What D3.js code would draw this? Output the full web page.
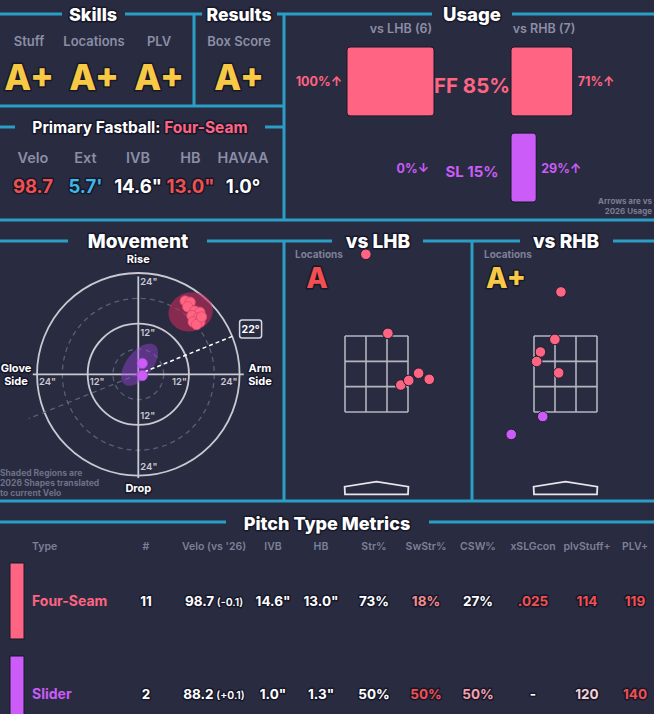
<!DOCTYPE html>
<html>
<head>
<meta charset="utf-8">
<script src="https://cdn.jsdelivr.net/npm/d3@7"></script>
<style>
html, body { margin: 0; padding: 0; background: #292b40; overflow: hidden; }
svg { display: block; font-family: Inter, "DejaVu Sans", sans-serif; }
.ol { paint-order: stroke; stroke: #17182a; stroke-width: 3px; stroke-linejoin: round; }
</style>
</head>
<body>
<svg id="mainsvg" width="654" height="714"></svg>
<script>
const skillNames = ["Stuff", "Locations", "PLV"];
const skillGrades = ["A+", "A+", "A+"];
const resultNames = ["Box Score"];
const resultGrades = ["A+"];

const fbStatNames = ["Velo", "Ext", "IVB", "HB", "HAVAA"];
const fbStatValues = ["98.7", "5.7'", "14.6\"", "13.0\"", "1.0°"];

const pitchNames = ["Four-Seam", "Slider"];
const pitchCodes = ["FF", "SL"];
const usageAll = [85, 15];
const usageLHB = [100, 0];
const usageRHB = [71, 29];
const trendLHB = ["↑", "↓"];
const trendRHB = ["↑", "↑"];
const countLHB = 6, countRHB = 7;

// movement (inches)
const ffHB = [11.1, 12.3, 11.7, 13.4, 14.6, 12.7, 14.3, 13.0, 14.6, 13.8, 15.0];
const ffIVB = [17.4, 17.1, 16.0, 15.0, 14.7, 13.9, 13.4, 12.4, 12.4, 11.8, 13.6];
const slHB = [0.95, 0.95];
const slIVB = [2.6, -0.3];
// 2026 shapes (center HB, center IVB, radii, tilt)
const shapeHB = [12.4, 0.3];
const shapeIVB = [14.8, 2.3];
const shapeRx = [5.3, 5.9];
const shapeRy = [4.6, 3.1];
const shapeTilt = [-15, -52];
const armAngle = 22;

// locations (feet)
const lhbPlateX = [-0.28, 0.30, 0.64, 0.85, 1.11, 1.39];
const lhbPlateZ = [5.65, 3.57, 2.21, 2.33, 2.52, 2.36];
const lhbPitch = ["FF", "FF", "FF", "FF", "FF", "FF"];
const rhbPlateX = [-0.12, -0.28, -0.66, -0.76, -0.18, -0.60, -1.43];
const rhbPlateZ = [4.66, 3.41, 3.08, 2.83, 2.53, 1.38, 0.91];
const rhbPitch = ["FF", "FF", "FF", "FF", "FF", "SL", "SL"];
const locGrades = ["A", "A+"];

// table
const tableHeaders = ["Type", "#", "Velo (vs '26)", "IVB", "HB", "Str%", "SwStr%", "CSW%", "xSLGcon", "plvStuff+", "PLV+"];
const rowCount = ["11", "2"];
const rowVelo = ["98.7", "88.2"];
const rowVeloDiff = ["(-0.1)", "(+0.1)"];
const rowIVB = ["14.6\"", "1.0\""];
const rowHB = ["13.0\"", "1.3\""];
const rowStr = ["73%", "50%"];
const rowSwStr = ["18%", "50%"];
const rowCSW = ["27%", "50%"];
const rowXSLG = [".025", "-"];
const rowStuff = ["114", "120"];
const rowPLV = ["119", "140"];

// ---- styles ----
const BG = "#292b40", LINE = "#2b9ec6", GRAY = "#8b8ea6";
const pitchColor = { FF: "#ff6482", SL: "#cb5cf7" };
const RED = "#f25050", BLUE = "#3fb6e6", SALMON = "#f48c8c", YELLOW = "#f7c945", PALE = "#f5d0d8", PINK2 = "#f4a0ac";
const gradeColor = g => g === "A+" ? YELLOW : RED;

const svg = d3.select("#mainsvg");
svg.append("rect").attr("width", 654).attr("height", 714).attr("fill", BG);

function hline(y, x0, x1) {
    svg.append("line").attr("x1", x0).attr("x2", x1).attr("y1", y).attr("y2", y)
        .attr("stroke", LINE).attr("stroke-width", 3);
}
function vline(x, y0, y1) {
    svg.append("line").attr("x1", x).attr("x2", x).attr("y1", y0).attr("y2", y1)
        .attr("stroke", LINE).attr("stroke-width", 3);
}
function txt(x, y, s, size, fill, weight, anchor) {
    return svg.append("text").attr("x", x).attr("y", y).text(s)
        .attr("font-size", size).attr("fill", fill)
        .attr("font-weight", weight || 700)
        .attr("text-anchor", anchor || "middle");
}

// section frame
hline(14, 0, 62); hline(14, 125, 202); hline(14, 277, 432); hline(14, 512, 654);
vline(194, 14, 106); vline(284, 14, 220);
hline(106, 0, 284);
hline(127, 0, 15); hline(127, 265, 284);
hline(220, 0, 654);
hline(241, 0, 68); hline(241, 207, 332); hline(241, 423, 520); hline(241, 613, 654);
vline(284, 241, 501); vline(472, 241, 501);
hline(501, 0, 654);
hline(522, 0, 226); hline(522, 429, 654);

txt(93, 21, "Skills", 18, "#fff", 800).attr("class", "ol");
txt(239, 21, "Results", 17.5, "#fff", 800).attr("class", "ol");
txt(472, 21, "Usage", 18.5, "#fff", 800).attr("class", "ol");

// ---- skills / results ----
const skillX = d3.scalePoint().domain(skillNames).range([29, 159]);
skillNames.forEach((n, i) => {
    txt(skillX(n), 46, n, 13, GRAY, 600);
    txt(skillX(n), 90, skillGrades[i], 35, gradeColor(skillGrades[i]), 800).attr("class", "ol");
});
resultNames.forEach((n, i) => {
    txt(239, 46, n, 13, GRAY, 600);
    txt(239, 90, resultGrades[i], 35, gradeColor(resultGrades[i]), 800).attr("class", "ol");
});

// ---- primary fastball ----
const pf = txt(140, 133, "Primary Fastball: ", 15.5, "#fff", 700).attr("class", "ol");
pf.append("tspan").text(pitchNames[0]).attr("fill", pitchColor.FF);
const fbColor = { "Velo": RED, "Ext": BLUE, "HB": RED };
const fbX = d3.scalePoint().domain(fbStatNames).range([33, 243]);
fbStatNames.forEach((n, i) => {
    txt(fbX(n), 163, n, 14.5, GRAY, 600);
    txt(fbX(n), 193, fbStatValues[i], 18.5, fbColor[n] || "#fff", 700).attr("class", "ol");
});

// ---- usage ----
const uy = d3.scaleBand().domain(pitchCodes).range([47, 202]).paddingInner(0.2);
const ux = d3.scaleLinear().domain([0, 100]).range([0, 87]);
const lhbEdge = 434, rhbEdge = 511;
txt(401, 33, `vs LHB (${countLHB})`, 12.5, GRAY, 600);
txt(544, 33, `vs RHB (${countRHB})`, 12.5, GRAY, 600);
pitchCodes.forEach((c, i) => {
    const col = pitchColor[c];
    const cy = uy(c) + uy.bandwidth() / 2;
    if (usageLHB[i] > 0)
        svg.append("rect").attr("x", lhbEdge - ux(usageLHB[i])).attr("y", uy(c))
            .attr("width", ux(usageLHB[i])).attr("height", uy.bandwidth())
            .attr("rx", 3).attr("fill", col).attr("stroke", "#17182a").attr("stroke-width", 1);
    if (usageRHB[i] > 0)
        svg.append("rect").attr("x", rhbEdge).attr("y", uy(c))
            .attr("width", ux(usageRHB[i])).attr("height", uy.bandwidth())
            .attr("rx", 3).attr("fill", col).attr("stroke", "#17182a").attr("stroke-width", 1);
    txt(lhbEdge - ux(usageLHB[i]) - 5, cy + 5, usageLHB[i] + "%" + trendLHB[i], 12.5, col, 700, "end");
    txt(rhbEdge + ux(usageRHB[i]) + 5, cy + 5, usageRHB[i] + "%" + trendRHB[i], 12.5, col, 700, "start");
    txt(472, cy + (i === 0 ? 11.5 : 9.5), c + " " + usageAll[i] + "%", i === 0 ? 20.5 : 15, col, 700);
});
txt(652, 204, "Arrows are vs", 8, "#7a7d93", 700, "end");
txt(652, 214, "2026 Usage", 8, "#7a7d93", 700, "end");

// ---- movement ----
txt(138, 248, "Movement", 19, "#fff", 800).attr("class", "ol");
const mcx = 138.3, mcy = 374.3, ppi = 4.22;
const mx = d3.scaleLinear().domain([-25, 25]).range([mcx - 25 * ppi, mcx + 25 * ppi]);
const my = d3.scaleLinear().domain([-25, 25]).range([mcy + 25 * ppi, mcy - 25 * ppi]);
const mg = svg.append("g");
[6, 18].forEach(r => mg.append("circle").attr("cx", mx(0)).attr("cy", my(0)).attr("r", mx(r) - mx(0))
    .attr("fill", "none").attr("stroke", "#5a5e76").attr("stroke-width", 1.3).attr("stroke-dasharray", "5,4"));
[12, 24].forEach(r => mg.append("circle").attr("cx", mx(0)).attr("cy", my(0)).attr("r", mx(r) - mx(0))
    .attr("fill", "none").attr("stroke", "#c9c9d2").attr("stroke-width", 1.8));
mg.append("line").attr("x1", mx(-25)).attr("x2", mx(25)).attr("y1", my(0)).attr("y2", my(0))
    .attr("stroke", "#c9c9d2").attr("stroke-width", 1.8);
mg.append("line").attr("x1", mx(0)).attr("x2", mx(0)).attr("y1", my(23.2)).attr("y2", my(-24.6))
    .attr("stroke", "#c9c9d2").attr("stroke-width", 1.8);

// tick labels
[12, 24].forEach(r => {
    txt(mx(0) + 2, my(r) + 12, r + "\"", 9.5, "#c9c9d2", 600, "start");
    txt(mx(0) + 2, my(-r) - 6, r + "\"", 9.5, "#c9c9d2", 600, "start");
    txt(mx(-r) + 2, my(0) + 10.5, r + "\"", 9.5, "#c9c9d2", 600, "start");
    txt(mx(r) - 2, my(0) + 10.5, r + "\"", 9.5, "#c9c9d2", 600, "end");
});
txt(mx(0), 263, "Rise", 11, "#fff", 700).attr("class", "ol");
txt(mx(0), 492, "Drop", 11, "#fff", 700).attr("class", "ol");
txt(16, 372, "Glove", 11, "#fff", 700).attr("class", "ol");
txt(16, 385, "Side", 11, "#fff", 700).attr("class", "ol");
txt(260, 372, "Arm", 11, "#fff", 700).attr("class", "ol");
txt(260, 385, "Side", 11, "#fff", 700).attr("class", "ol");

// arm angle line
const rad = armAngle * Math.PI / 180;
const polar = r => [mx(r * Math.cos(rad)), my(r * Math.sin(rad))];
mg.append("line").attr("x1", polar(0)[0]).attr("y1", polar(0)[1])
    .attr("x2", polar(-28)[0]).attr("y2", polar(-28)[1])
    .attr("stroke", "#5f6279").attr("stroke-width", 1.2).attr("stroke-dasharray", "5,4");

// 2026 shapes
pitchCodes.forEach((c, i) => {
    mg.append("ellipse")
        .attr("transform", `translate(${mx(shapeHB[i])},${my(shapeIVB[i])}) rotate(${shapeTilt[i]})`)
        .attr("rx", mx(shapeRx[i]) - mx(0)).attr("ry", mx(shapeRy[i]) - mx(0))
        .attr("fill", c === "FF" ? "#c42a5c" : "#9d42e0").attr("opacity", c === "FF" ? 0.6 : 0.42);
});
mg.append("line").attr("x1", polar(1.5)[0]).attr("y1", polar(1.5)[1])
    .attr("x2", polar(24)[0]).attr("y2", polar(24)[1])
    .attr("stroke", "#fff").attr("stroke-width", 1.5).attr("stroke-dasharray", "4,3");
const bp = polar(28.7);
mg.append("rect").attr("x", bp[0] - 11).attr("y", bp[1] - 9).attr("width", 22).attr("height", 18)
    .attr("rx", 2.5).attr("fill", BG).attr("stroke", "#d6d6de").attr("stroke-width", 1.5);
txt(bp[0], bp[1] + 4, armAngle + "°", 10.5, "#fff", 700);

ffHB.forEach((h, i) => mg.append("circle").attr("cx", mx(h)).attr("cy", my(ffIVB[i])).attr("r", 5.2)
    .attr("fill", pitchColor.FF).attr("stroke", "#d9466a").attr("stroke-width", 0.7));
slHB.forEach((h, i) => mg.append("circle").attr("cx", mx(h)).attr("cy", my(slIVB[i])).attr("r", 5.2)
    .attr("fill", pitchColor.SL).attr("stroke", "#a646d0").attr("stroke-width", 0.7));

txt(0, 476, "Shaded Regions are", 8.5, "#6e7188", 700, "start");
txt(0, 486, "2026 Shapes translated", 8.5, "#6e7188", 700, "start");
txt(0, 495.5, "to current Velo", 8.5, "#6e7188", 700, "start");

// ---- locations ----
txt(378, 248, "vs LHB", 19, "#fff", 800).attr("class", "ol");
txt(566, 248, "vs RHB", 19, "#fff", 800).attr("class", "ol");
const ly = d3.scaleLinear().domain([1.5, 3.5]).range([412, 336]);
const panels = [
    { x: d3.scaleLinear().domain([-0.83, 0.83]).range([345, 408]), px: lhbPlateX, pz: lhbPlateZ, pt: lhbPitch, lab: 295, grade: locGrades[0] },
    { x: d3.scaleLinear().domain([-0.83, 0.83]).range([534, 597]), px: rhbPlateX, pz: rhbPlateZ, pt: rhbPitch, lab: 484, grade: locGrades[1] }
];
panels.forEach(p => {
    const g = svg.append("g");
    txt(p.lab, 258, "Locations", 10, "#7d8098", 700, "start");
    txt(p.lab + 22, 288, p.grade, 28, gradeColor(p.grade), 800).attr("class", "ol");
    const xs = d3.range(4).map(k => -0.83 + k * 1.66 / 3);
    const zs = d3.range(4).map(k => 1.5 + k * 2 / 3);
    xs.forEach(v => g.append("line").attr("x1", p.x(v)).attr("x2", p.x(v)).attr("y1", ly(1.5)).attr("y2", ly(3.5))
        .attr("stroke", "#b5b5bf").attr("stroke-width", 1.6));
    zs.forEach(v => g.append("line").attr("x1", p.x(-0.83)).attr("x2", p.x(0.83)).attr("y1", ly(v)).attr("y2", ly(v))
        .attr("stroke", "#b5b5bf").attr("stroke-width", 1.6));
    const plate = [[-0.83, -0.666], [-0.84, -0.466], [0, -0.334], [0.84, -0.466], [0.83, -0.666]];
    g.append("path").attr("d", d3.line().x(d => p.x(d[0])).y(d => ly(d[1]))(plate) + "Z")
        .attr("fill", "none").attr("stroke", "#e6e6ec").attr("stroke-width", 1.8);
    p.px.forEach((v, i) => g.append("circle").attr("cx", p.x(v)).attr("cy", ly(p.pz[i])).attr("r", 5.3)
        .attr("fill", pitchColor[p.pt[i]]).attr("stroke", "#1d1e30").attr("stroke-width", 1));
});

// ---- table ----
txt(327, 530, "Pitch Type Metrics", 18, "#fff", 800).attr("class", "ol");
const colX = d3.scaleOrdinal().domain(tableHeaders).range([32, 146, 214, 273, 321, 374, 426, 478, 533, 587, 635]);
tableHeaders.forEach(h => txt(colX(h), 550, h, 10.5, "#7d8098", 600, h === "Type" ? "start" : "middle"));
const ty = d3.scaleBand().domain(pitchNames).range([563, 732]).paddingInner(0.183);
const cellColor = {
    "SwStr%": [SALMON, RED], "CSW%": ["#fff", PINK2], "xSLGcon": [RED, "#fff"],
    "plvStuff+": [RED, PALE], "PLV+": [RED, RED]
};
const cols = { "#": rowCount, "IVB": rowIVB, "HB": rowHB, "Str%": rowStr, "SwStr%": rowSwStr, "CSW%": rowCSW,
    "xSLGcon": rowXSLG, "plvStuff+": rowStuff, "PLV+": rowPLV };
pitchNames.forEach((n, i) => {
    const c = pitchCodes[i];
    const base = ty(n) + ty.bandwidth() / 2 + 5;
    svg.append("rect").attr("x", 10).attr("y", ty(n)).attr("width", 14).attr("height", ty.bandwidth())
        .attr("fill", pitchColor[c]).attr("stroke", "#17182a").attr("stroke-width", 1);
    txt(colX("Type"), base, n, 14, pitchColor[c], 700, "start");
    Object.keys(cols).forEach(h => {
        const fill = cellColor[h] ? cellColor[h][i] : "#fff";
        txt(colX(h), base, cols[h][i], 13.5, fill, 700).attr("class", "ol");
    });
    const v = txt(colX("Velo (vs '26)"), base, rowVelo[i], 13.5, "#fff", 700).attr("class", "ol");
    v.append("tspan").text(" " + rowVeloDiff[i]).attr("font-size", 10.5).attr("font-weight", 600);
});
</script>
</body>
</html>
